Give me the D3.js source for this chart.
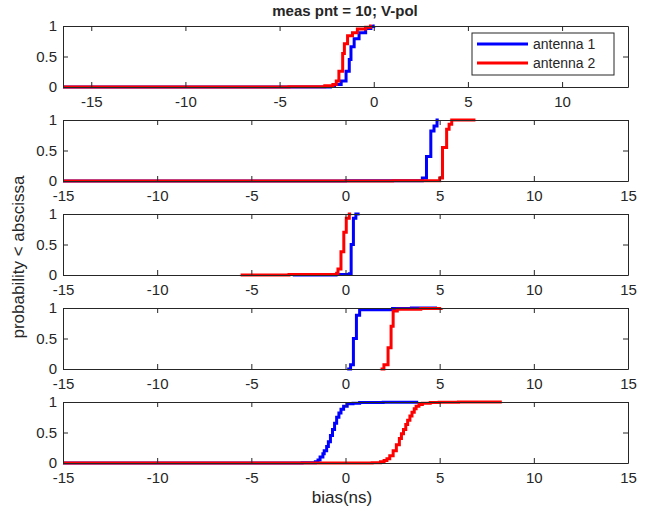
<!DOCTYPE html>
<html>
<head>
<meta charset="utf-8">
<script src="https://cdn.jsdelivr.net/npm/d3@7"></script>
<style>
  body { margin: 0; background: #fff; }
  text { font-family: "Liberation Sans", Arial, sans-serif; fill: #262626; }
</style>
</head>
<body>
<svg id="chart" width="656" height="512"></svg>
<script>
// cdf of the bias for each measurement, [bias (ns), probability]
var ant1_p1 = [[-16.5,0],[-2.3,0.01],[-2.08,0.04],[-1.73,0.1],[-1.47,0.26],[-1.3,0.45],[-1.21,0.66],[-1.04,0.79],[-0.78,0.89],[-0.43,0.96],[-0.15,0.99],[0,1],[0.05,1]]
var ant2_p1 = [[-16.5,0],[-4.5,0.005],[-2.6,0.02],[-2.17,0.04],[-1.99,0.1],[-1.85,0.26],[-1.65,0.55],[-1.56,0.71],[-1.39,0.84],[-1.13,0.89],[-0.87,0.95],[-0.43,0.98],[-0.17,1],[-0.1,1]]
var ant1_p2 = [[-15,0],[0,0.003],[4.08,0.05],[4.3,0.4],[4.53,0.82],[4.7,0.9],[4.86,1],[4.95,1]]
var ant2_p2 = [[-15,0],[2.5,0.005],[5.0,0.05],[5.15,0.55],[5.37,0.85],[5.5,0.93],[5.64,1],[6.9,1]]
var ant1_p3 = [[-2.8,0],[-0.5,0.01],[0.2,0.02],[0.3,0.5],[0.42,0.93],[0.55,1],[0.75,1]]
var ant2_p3 = [[-5.57,0],[-3,0.01],[-0.47,0.03],[-0.4,0.1],[-0.24,0.38],[-0.09,0.7],[0.04,0.93],[0.2,1],[0.3,1]]
var ant1_p4 = [[0.09,0],[0.27,0.07],[0.42,0.5],[0.58,0.88],[0.75,0.97],[2.5,0.99],[3.5,1],[4.86,1]]
var ant2_p4 = [[1.86,0],[2.04,0.07],[2.26,0.35],[2.42,0.7],[2.53,0.95],[2.75,0.98],[4,0.99],[5.08,1]]
var ant1_p5 = [[-15,0],[-2.3,0.005],[-1.6,0.02],[-1.46,0.05],[-1.35,0.1],[-1.2,0.15],[-1.13,0.2],[-1.0,0.27],[-0.91,0.35],[-0.8,0.45],[-0.69,0.55],[-0.58,0.65],[-0.47,0.75],[-0.35,0.82],[-0.24,0.88],[-0.1,0.93],[0.09,0.97],[0.4,0.98],[0.75,0.99],[2,0.995],[3.86,1]]
var ant2_p5 = [[-15,0],[1.42,0.005],[1.86,0.02],[2.05,0.04],[2.2,0.07],[2.35,0.12],[2.53,0.2],[2.7,0.3],[2.86,0.4],[2.97,0.48],[3.08,0.55],[3.2,0.63],[3.3,0.7],[3.42,0.77],[3.53,0.83],[3.65,0.89],[3.75,0.93],[3.9,0.96],[4.08,0.98],[4.5,0.99],[4.97,0.995],[6,1],[8.3,1]]

var xRanges = [[-16.5, 13.5], [-15, 15], [-15, 15], [-15, 15], [-15, 15]]
var xTicks1 = [-15, -10, -5, 0, 5, 10]
var xTicks = [-15, -10, -5, 0, 5, 10, 15]
var yTicks = [0, 0.5, 1]
var seriesNames = ["antenna 1", "antenna 2"]
var seriesColors = ["#0000ff", "#ff0000"]

var panels = [
  [ant1_p1, ant2_p1],
  [ant1_p2, ant2_p2],
  [ant1_p3, ant2_p3],
  [ant1_p4, ant2_p4],
  [ant1_p5, ant2_p5]
]

var svg = d3.select("#chart")
var left = 63, right = 628
var tops = [26, 120, 214, 308, 402]
var h = 61

// matlab style labels, plain hyphen
function plain(d) { return String(d) }

panels.forEach(function(series, i) {
  var x = d3.scaleLinear().domain(xRanges[i]).range([left, right])
  var y = d3.scaleLinear().domain([0, 1]).range([tops[i] + h, tops[i]])
  var g = svg.append("g")
  var ticks = i == 0 ? xTicks1 : xTicks

  var clipId = "clip" + i
  g.append("clipPath").attr("id", clipId)
    .append("rect").attr("x", left).attr("y", tops[i] - 3).attr("width", right - left).attr("height", h + 6)

  var line = d3.line()
    .x(function(d) { return x(d[0]) })
    .y(function(d) { return y(d[1]) })
    .curve(d3.curveStepAfter)

  series.forEach(function(s, j) {
    g.append("path")
      .attr("d", line(s))
      .attr("clip-path", "url(#" + clipId + ")")
      .attr("fill", "none")
      .attr("stroke", seriesColors[j])
      .attr("stroke-width", 3)
  })

  // box + ticks
  g.append("g").attr("transform", "translate(0," + (tops[i] + h) + ")")
    .call(d3.axisBottom(x).tickValues(ticks).tickSizeInner(-5).tickSizeOuter(0).tickPadding(9).tickFormat(plain))
  g.append("g").attr("transform", "translate(0," + tops[i] + ")")
    .call(d3.axisTop(x).tickValues(ticks).tickSizeInner(-5).tickSizeOuter(0).tickFormat(""))
  g.append("g").attr("transform", "translate(" + left + ",0)")
    .call(d3.axisLeft(y).tickValues(yTicks).tickSizeInner(-5).tickSizeOuter(0).tickPadding(6).tickFormat(plain))
  g.append("g").attr("transform", "translate(" + right + ",0)")
    .call(d3.axisRight(y).tickValues(yTicks).tickSizeInner(-5).tickSizeOuter(0).tickFormat(""))

  g.selectAll(".domain").attr("stroke", "#262626")
  g.selectAll(".tick line").attr("stroke", "#262626")
  g.selectAll(".tick text").style("font-size", "15px").attr("fill", "#262626")
})

svg.append("text").attr("x", 345).attr("y", 16).attr("text-anchor", "middle")
  .style("font-size", "15px").style("font-weight", "bold").text("meas pnt = 10; V-pol")

svg.append("text").attr("x", 342).attr("y", 503).attr("text-anchor", "middle")
  .style("font-size", "17px").text("bias(ns)")

svg.append("text").attr("transform", "translate(24,257) rotate(-90)").attr("text-anchor", "middle")
  .style("font-size", "17px").text("probability < abscissa")

// legend
var lg = svg.append("g")
lg.append("rect").attr("x", 472).attr("y", 33).attr("width", 142).attr("height", 42)
  .attr("fill", "#fff").attr("stroke", "#262626").attr("stroke-width", 1)
seriesNames.forEach(function(n, j) {
  var yy = 44 + j * 19
  lg.append("line").attr("x1", 477).attr("x2", 528).attr("y1", yy).attr("y2", yy)
    .attr("stroke", seriesColors[j]).attr("stroke-width", 3)
  lg.append("text").attr("x", 533).attr("y", yy + 5).style("font-size", "14px").text(n)
})
</script>
</body>
</html>
